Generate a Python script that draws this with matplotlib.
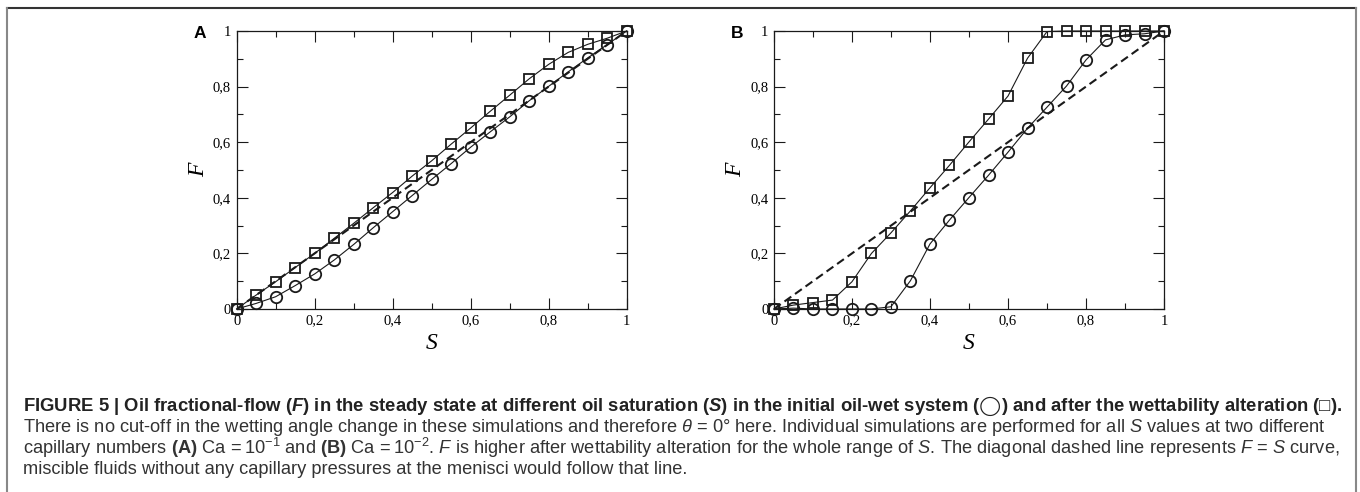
import matplotlib
matplotlib.use("Agg")
import matplotlib.pyplot as plt
import numpy as np
from matplotlib.ticker import MultipleLocator, FuncFormatter
from matplotlib.lines import Line2D

# oil saturation values, same grid for both panels
s_values = np.round(np.arange(0, 1.0001, 0.05), 2)

# panel A, Ca = 10^-1
f_a_oilwet = [0, 0.02, 0.044, 0.084, 0.126, 0.176, 0.232, 0.292, 0.35, 0.408, 0.466,
              0.523, 0.582, 0.637, 0.691, 0.749, 0.801, 0.853, 0.903, 0.951, 1.0]
f_a_altered = [0, 0.05, 0.098, 0.149, 0.2, 0.254, 0.308, 0.364, 0.419, 0.478, 0.533,
               0.593, 0.651, 0.711, 0.769, 0.828, 0.88, 0.923, 0.952, 0.974, 1.0]

# panel B, Ca = 10^-2
f_b_oilwet = [0, 0.003, 0, 0, 0, 0, 0.008, 0.102, 0.234, 0.32, 0.401,
              0.481, 0.564, 0.65, 0.726, 0.802, 0.896, 0.968, 0.986, 0.99, 1.0]
f_b_altered = [0, 0.014, 0.023, 0.032, 0.098, 0.2, 0.274, 0.353, 0.436, 0.517, 0.601,
               0.683, 0.766, 0.902, 0.998, 1.0, 1.0, 1.0, 1.0, 1.0, 1.0]

panels = [("A", f_a_oilwet, f_a_altered), ("B", f_b_oilwet, f_b_altered)]

plt.rcParams["mathtext.fontset"] = "custom"
plt.rcParams["mathtext.rm"] = "Liberation Sans"
plt.rcParams["mathtext.it"] = "Liberation Sans:italic"
plt.rcParams["mathtext.bf"] = "Liberation Sans:bold"
plt.rcParams["mathtext.bfit"] = "Liberation Sans:bold:italic"
plt.rcParams["mathtext.fallback"] = "stix"

fig = plt.figure(figsize=(13.6, 4.92), dpi=100)

serif = "Liberation Serif"
ink = "#1a1a1a"


def fmt(v, pos):
    return f"{v:g}".replace(".", ",")


lefts = [0.174, 0.5691]
for left, (tag, f_oil, f_alt) in zip(lefts, panels):
    ax = fig.add_axes([left, 0.372, 0.2868, 0.565])
    ax.plot([0, 1], [0, 1], color=ink, lw=1.5, dashes=(4, 2.2), zorder=2)
    ax.plot(s_values, f_oil, color=ink, lw=0.8, marker="o", ms=8.2, mfc="none",
            mec=ink, mew=1.3, clip_on=False, zorder=3)
    ax.plot(s_values, f_alt, color=ink, lw=0.8, marker="s", ms=7.4, mfc="none",
            mec=ink, mew=1.3, clip_on=False, zorder=3)
    ax.set_xlim(0, 1)
    ax.set_ylim(0, 1)
    for axis in (ax.xaxis, ax.yaxis):
        axis.set_major_locator(MultipleLocator(0.2))
        axis.set_minor_locator(MultipleLocator(0.1))
        axis.set_major_formatter(FuncFormatter(fmt))
    ax.tick_params(which="both", direction="in", top=True, right=True,
                   color=ink, width=0.8, labelsize=10.5, pad=4)
    ax.tick_params(which="major", length=8)
    ax.tick_params(which="minor", length=4)
    for lab in ax.get_xticklabels() + ax.get_yticklabels():
        lab.set_fontfamily(serif)
    for sp in ax.spines.values():
        sp.set_color(ink)
        sp.set_linewidth(0.9)
    ax.set_xlabel("S", fontfamily=serif, fontstyle="italic", fontsize=17, labelpad=4)
    ax.set_ylabel("F", fontfamily=serif, fontstyle="italic", fontsize=17, labelpad=3)
    ax.text(-0.095, 0.99, tag, transform=ax.transAxes, fontsize=12.5,
            fontweight="bold", fontfamily=["Liberation Sans", "DejaVu Sans"],
            ha="center", va="center")

# frame around the figure and caption
y_top = 1 - 8 / 492
fig.add_artist(Line2D([7 / 1360, 1356 / 1360], [y_top, y_top], transform=fig.transFigure,
                      color="#333333", lw=1.5))
fig.add_artist(Line2D([7 / 1360, 7 / 1360], [0, y_top], transform=fig.transFigure,
                      color="#888888", lw=1.5))
fig.add_artist(Line2D([1356 / 1360, 1356 / 1360], [0, y_top], transform=fig.transFigure,
                      color="#888888", lw=1.5))

bold_line = ("FIGURE 5 | Oil fractional-flow ($\\mathbfit{F}$) in the steady state at different "
             "oil saturation ($\\mathbfit{S}$) in the initial oil-wet system ($\\mathrm{\u25EF}$) and after "
             "the wettability alteration (\u25A1).")
body_lines = [
    "There is no cut-off in the wetting angle change in these simulations and therefore "
    "$\\theta$ = 0\u00B0 here. Individual simulations are performed for all $S$ values at two different",
    "capillary numbers $\\mathbf{(A)}$ Ca$\\,=10^{-1}$ and $\\mathbf{(B)}$ Ca$\\,=10^{-2}$. "
    "$F$ is higher after wettability alteration for the whole range of $S$. "
    "The diagonal dashed line represents $F$ = $S$ curve,",
    "miscible fluids without any capillary pressures at the menisci would follow that line.",
]
x0 = 22.7 / 1360
fam = ["Liberation Sans", "DejaVu Sans"]
t_bold = fig.text(x0, 1 - 410.7 / 492, bold_line, fontsize=11, fontweight="bold",
                  fontfamily=fam, color="#222222", va="baseline")
baselines = [431.6, 454.0, 473.6]
t_body = [fig.text(x0, 1 - b / 492, s, fontsize=11, fontfamily=fam, color="#333333",
                   va="baseline") for b, s in zip(baselines, body_lines)]

# fit caption widths to the reference
fig.canvas.draw()
r = fig.canvas.get_renderer()
for _ in range(2):
    w = t_bold.get_window_extent(r).width
    t_bold.set_fontsize(t_bold.get_fontsize() * 1318 / w)
    w = t_body[1].get_window_extent(r).width
    size = t_body[1].get_fontsize() * 1316 / w
    for t in t_body:
        t.set_fontsize(size)
    fig.canvas.draw()

fig.savefig("out.png", dpi=100)
